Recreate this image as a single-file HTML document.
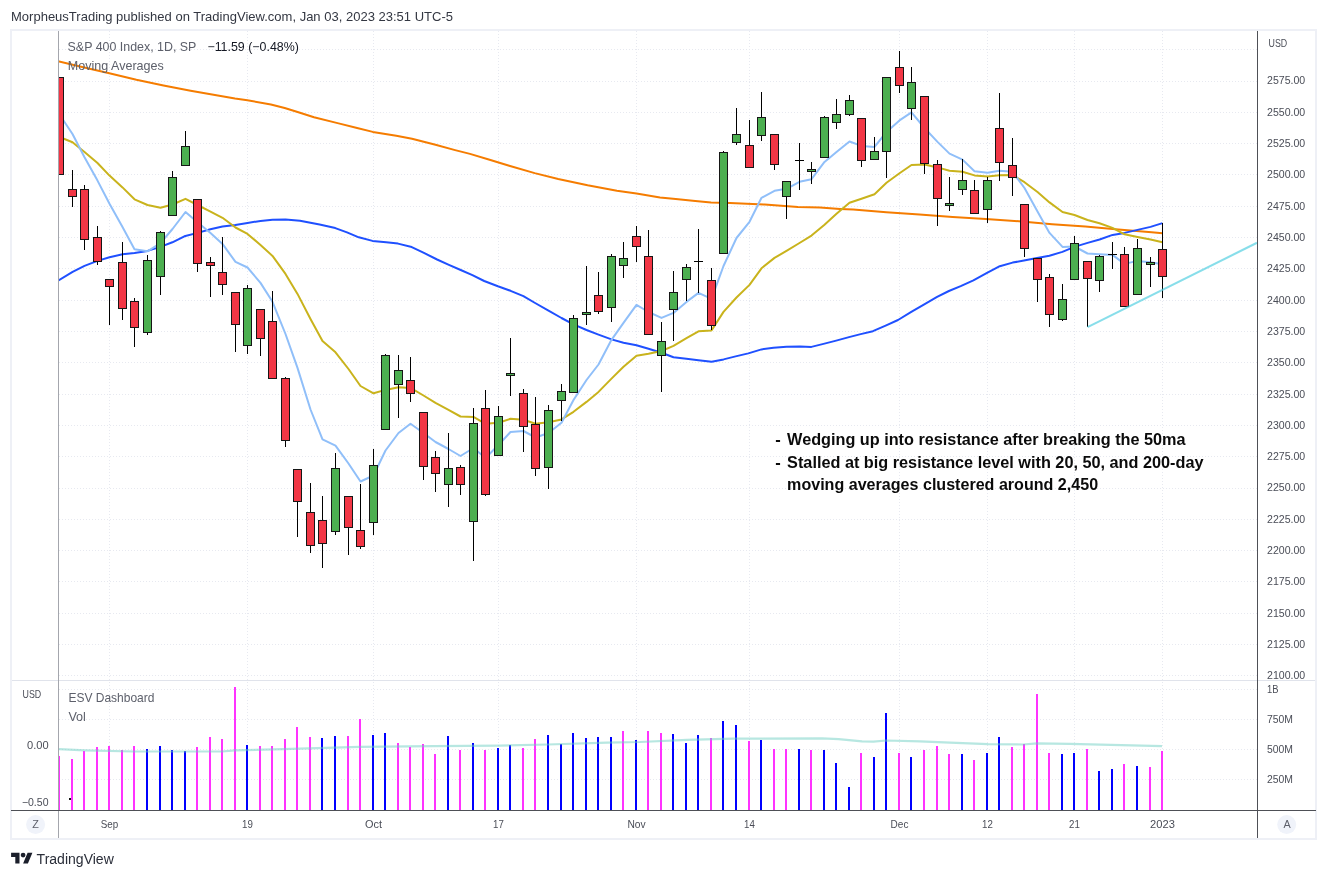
<!DOCTYPE html>
<html lang="en"><head><meta charset="utf-8"><title>S&amp;P 400 Index chart</title>
<style>html,body{margin:0;padding:0;background:#fff;width:1327px;height:878px;overflow:hidden}svg text{white-space:pre}</style>
</head><body>
<svg width="1327" height="878" viewBox="0 0 1327 878" style="display:block">
<defs><clipPath id="cm"><rect x="59" y="31" width="1198" height="649"/></clipPath><clipPath id="cv"><rect x="59" y="681" width="1198" height="129"/></clipPath></defs>
<rect width="1327" height="878" fill="#fff"/>
<rect x="11" y="30" width="1305" height="809" fill="none" stroke="#EEF0F6" stroke-width="2"/>
<g stroke="#E7E9F0" stroke-width="1" stroke-dasharray="1 2" fill="none" shape-rendering="crispEdges"><path d="M59 49.5H1257"/><path d="M59 81.5H1257"/><path d="M59 112.5H1257"/><path d="M59 143.5H1257"/><path d="M59 174.5H1257"/><path d="M59 206.5H1257"/><path d="M59 237.5H1257"/><path d="M59 268.5H1257"/><path d="M59 300.5H1257"/><path d="M59 331.5H1257"/><path d="M59 362.5H1257"/><path d="M59 394.5H1257"/><path d="M59 425.5H1257"/><path d="M59 456.5H1257"/><path d="M59 488.5H1257"/><path d="M59 519.5H1257"/><path d="M59 550.5H1257"/><path d="M59 581.5H1257"/><path d="M59 613.5H1257"/><path d="M59 644.5H1257"/><path d="M59 675.5H1257"/><path d="M59 689.5H1257"/><path d="M59 719.5H1257"/><path d="M59 749.5H1257"/><path d="M59 779.5H1257"/><path d="M109.5 31V680M109.5 682V810"/><path d="M247.5 31V680M247.5 682V810"/><path d="M373.5 31V680M373.5 682V810"/><path d="M498.5 31V680M498.5 682V810"/><path d="M636.5 31V680M636.5 682V810"/><path d="M749.5 31V680M749.5 682V810"/><path d="M899.5 31V680M899.5 682V810"/><path d="M987.5 31V680M987.5 682V810"/><path d="M1074.5 31V680M1074.5 682V810"/><path d="M1162.5 31V680M1162.5 682V810"/></g>
<rect x="12" y="680" width="1303" height="1" fill="#E0E3EB" shape-rendering="crispEdges"/>
<g clip-path="url(#cv)" shape-rendering="crispEdges"><rect x="58" y="756" width="2" height="54" fill="#FF33FF"/><rect x="71" y="759" width="2" height="51" fill="#FF33FF"/><rect x="83" y="751" width="2" height="59" fill="#FF33FF"/><rect x="96" y="747" width="2" height="63" fill="#FF33FF"/><rect x="108" y="746" width="2" height="64" fill="#FF33FF"/><rect x="121" y="750" width="2" height="60" fill="#FF33FF"/><rect x="133" y="746" width="2" height="64" fill="#FF33FF"/><rect x="146" y="749" width="2" height="61" fill="#0000FF"/><rect x="159" y="746" width="2" height="64" fill="#0000FF"/><rect x="171" y="750" width="2" height="60" fill="#0000FF"/><rect x="184" y="751" width="2" height="59" fill="#0000FF"/><rect x="196" y="747" width="2" height="63" fill="#FF33FF"/><rect x="209" y="737" width="2" height="73" fill="#FF33FF"/><rect x="221" y="739" width="2" height="71" fill="#FF33FF"/><rect x="234" y="687" width="2" height="123" fill="#FF33FF"/><rect x="246" y="745" width="2" height="65" fill="#0000FF"/><rect x="259" y="746" width="2" height="64" fill="#FF33FF"/><rect x="271" y="746" width="2" height="64" fill="#FF33FF"/><rect x="284" y="739" width="2" height="71" fill="#FF33FF"/><rect x="296" y="727" width="2" height="83" fill="#FF33FF"/><rect x="309" y="737" width="2" height="73" fill="#FF33FF"/><rect x="321" y="738" width="2" height="72" fill="#0000FF"/><rect x="334" y="736" width="2" height="74" fill="#0000FF"/><rect x="347" y="736" width="2" height="74" fill="#FF33FF"/><rect x="359" y="719" width="2" height="91" fill="#FF33FF"/><rect x="372" y="735" width="2" height="75" fill="#0000FF"/><rect x="384" y="733" width="2" height="77" fill="#0000FF"/><rect x="397" y="743" width="2" height="67" fill="#FF33FF"/><rect x="409" y="747" width="2" height="63" fill="#FF33FF"/><rect x="422" y="744" width="2" height="66" fill="#FF33FF"/><rect x="434" y="754" width="2" height="56" fill="#FF33FF"/><rect x="447" y="736" width="2" height="74" fill="#0000FF"/><rect x="459" y="750" width="2" height="60" fill="#FF33FF"/><rect x="472" y="743" width="2" height="67" fill="#0000FF"/><rect x="484" y="750" width="2" height="60" fill="#FF33FF"/><rect x="497" y="748" width="2" height="62" fill="#0000FF"/><rect x="509" y="745" width="2" height="65" fill="#0000FF"/><rect x="522" y="748" width="2" height="62" fill="#FF33FF"/><rect x="534" y="739" width="2" height="71" fill="#FF33FF"/><rect x="547" y="735" width="2" height="75" fill="#0000FF"/><rect x="560" y="744" width="2" height="66" fill="#0000FF"/><rect x="572" y="733" width="2" height="77" fill="#0000FF"/><rect x="585" y="738" width="2" height="72" fill="#0000FF"/><rect x="597" y="737" width="2" height="73" fill="#0000FF"/><rect x="610" y="737" width="2" height="73" fill="#0000FF"/><rect x="622" y="731" width="2" height="79" fill="#FF33FF"/><rect x="635" y="740" width="2" height="70" fill="#0000FF"/><rect x="647" y="731" width="2" height="79" fill="#FF33FF"/><rect x="660" y="733" width="2" height="77" fill="#FF33FF"/><rect x="672" y="734" width="2" height="76" fill="#0000FF"/><rect x="685" y="743" width="2" height="67" fill="#0000FF"/><rect x="697" y="735" width="2" height="75" fill="#0000FF"/><rect x="710" y="738" width="2" height="72" fill="#FF33FF"/><rect x="722" y="721" width="2" height="89" fill="#0000FF"/><rect x="735" y="725" width="2" height="85" fill="#0000FF"/><rect x="748" y="741" width="2" height="69" fill="#FF33FF"/><rect x="760" y="740" width="2" height="70" fill="#0000FF"/><rect x="773" y="749" width="2" height="61" fill="#FF33FF"/><rect x="785" y="749" width="2" height="61" fill="#FF33FF"/><rect x="798" y="749" width="2" height="61" fill="#0000FF"/><rect x="810" y="750" width="2" height="60" fill="#FF33FF"/><rect x="823" y="750" width="2" height="60" fill="#0000FF"/><rect x="835" y="763" width="2" height="47" fill="#0000FF"/><rect x="848" y="787" width="2" height="23" fill="#0000FF"/><rect x="860" y="753" width="2" height="57" fill="#FF33FF"/><rect x="873" y="757" width="2" height="53" fill="#0000FF"/><rect x="885" y="713" width="2" height="97" fill="#0000FF"/><rect x="898" y="753" width="2" height="57" fill="#FF33FF"/><rect x="910" y="757" width="2" height="53" fill="#0000FF"/><rect x="923" y="750" width="2" height="60" fill="#FF33FF"/><rect x="936" y="746" width="2" height="64" fill="#FF33FF"/><rect x="948" y="754" width="2" height="56" fill="#FF33FF"/><rect x="961" y="754" width="2" height="56" fill="#0000FF"/><rect x="973" y="760" width="2" height="50" fill="#FF33FF"/><rect x="986" y="753" width="2" height="57" fill="#0000FF"/><rect x="998" y="737" width="2" height="73" fill="#0000FF"/><rect x="1011" y="747" width="2" height="63" fill="#FF33FF"/><rect x="1023" y="744" width="2" height="66" fill="#FF33FF"/><rect x="1036" y="694" width="2" height="116" fill="#FF33FF"/><rect x="1048" y="753" width="2" height="57" fill="#FF33FF"/><rect x="1061" y="754" width="2" height="56" fill="#0000FF"/><rect x="1073" y="753" width="2" height="57" fill="#0000FF"/><rect x="1086" y="749" width="2" height="61" fill="#FF33FF"/><rect x="1098" y="771" width="2" height="39" fill="#0000FF"/><rect x="1111" y="769" width="2" height="41" fill="#0000FF"/><rect x="1123" y="764" width="2" height="46" fill="#FF33FF"/><rect x="1136" y="766" width="2" height="44" fill="#0000FF"/><rect x="1149" y="767" width="2" height="43" fill="#FF33FF"/><rect x="1161" y="751" width="2" height="59" fill="#FF33FF"/></g>
<path d="M50.0 748.8 L59.0 749.1 L85.0 750.3 L134.0 751.5 L222.0 751.5 L235.0 750.3 L283.0 749.1 L360.0 746.8 L434.0 746.1 L500.0 745.6 L548.0 744.5 L607.0 742.6 L640.0 742.0 L687.0 739.8 L733.0 738.6 L822.0 738.4 L838.6 739.1 L862.0 741.4 L873.6 741.7 L886.0 740.5 L920.0 741.4 L950.0 742.6 L988.0 744.2 L1023.0 744.5 L1037.0 743.3 L1070.0 743.8 L1162.0 746.1" fill="none" stroke="#6FCFC3" stroke-width="2.2" stroke-linejoin="round" stroke-linecap="butt" clip-path="url(#cv)" stroke-opacity="0.5"/>
<rect x="69" y="798" width="2" height="2" fill="#111"/>
<path d="M46.0 58.5 L59.1 61.5 L82.1 67.0 L109.3 73.3 L136.4 79.8 L163.5 85.5 L190.6 90.7 L217.8 95.4 L235.0 98.6 L247.4 100.2 L270.9 104.5 L284.7 108.0 L298.4 112.3 L314.0 117.2 L337.6 123.1 L357.1 128.0 L372.8 131.9 L396.3 135.8 L412.0 138.8 L435.5 144.7 L455.1 150.1 L470.0 153.9 L489.6 159.8 L509.2 165.7 L534.7 173.1 L558.2 179.0 L587.6 185.3 L616.9 190.8 L636.5 193.5 L660.0 197.4 L675.7 199.0 L695.3 200.9 L711.0 202.5 L730.0 202.9 L764.7 204.6 L797.9 206.9 L820.0 207.5 L840.0 208.9 L853.2 209.6 L886.3 212.2 L919.5 214.5 L952.6 216.9 L985.8 218.9 L1018.9 221.2 L1052.1 224.2 L1085.3 226.6 L1118.4 229.4 L1151.6 232.2 L1162.5 233.3" fill="none" stroke="#F57C00" stroke-width="2.0" stroke-linejoin="round" stroke-linecap="butt" clip-path="url(#cm)" />
<path d="M46.0 289.0 L58.5 280.5 L72.6 271.9 L84.5 265.9 L97.5 260.9 L109.5 257.3 L122.5 254.3 L134.5 252.9 L147.5 250.9 L160.4 246.9 L172.4 242.3 L184.4 236.3 L197.6 232.9 L210.4 229.3 L222.5 226.5 L235.3 224.9 L247.5 222.9 L260.5 220.9 L272.5 219.7 L285.5 219.4 L300.0 220.7 L319.6 224.6 L335.3 228.1 L347.0 232.4 L358.8 237.3 L372.5 240.9 L386.2 242.2 L398.0 243.6 L410.7 246.7 L423.4 252.6 L437.1 259.5 L448.9 264.8 L460.7 270.0 L472.4 275.1 L484.2 281.0 L497.9 286.3 L510.6 290.8 L523.4 296.1 L535.1 303.0 L548.5 310.6 L561.5 318.0 L573.5 324.4 L586.5 330.0 L598.5 334.6 L611.5 339.4 L623.5 342.8 L636.5 345.2 L648.5 348.8 L661.5 352.8 L673.5 357.2 L686.4 358.8 L698.4 360.2 L711.6 361.8 L723.6 359.4 L735.6 356.4 L748.3 353.4 L761.5 349.4 L773.5 347.8 L786.5 346.8 L800.0 346.4 L811.4 346.9 L823.5 343.9 L836.2 340.6 L849.0 337.1 L860.7 334.1 L872.9 331.2 L886.2 325.3 L898.0 320.0 L911.7 311.6 L923.4 304.8 L937.1 296.9 L948.9 291.0 L960.7 286.1 L973.4 280.3 L986.1 273.4 L999.8 266.2 L1012.6 262.6 L1025.3 260.3 L1037.1 258.1 L1049.4 255.7 L1062.4 251.9 L1074.4 246.9 L1087.6 242.9 L1099.6 239.5 L1112.6 234.9 L1124.5 232.9 L1137.5 229.9 L1150.5 226.9 L1162.5 223.1" fill="none" stroke="#1F50FF" stroke-width="2.0" stroke-linejoin="round" stroke-linecap="butt" clip-path="url(#cm)" />
<path d="M47.5 133.0 L59.5 137.0 L72.5 142.3 L84.5 152.0 L97.5 163.0 L109.5 175.6 L122.5 187.4 L134.5 199.3 L147.5 205.0 L160.5 207.7 L172.5 204.5 L185.5 198.8 L197.5 205.0 L210.5 211.7 L222.5 217.8 L235.5 227.5 L247.5 233.9 L260.5 244.9 L272.5 255.9 L285.5 273.9 L297.5 293.9 L310.5 319.0 L322.5 341.0 L335.5 352.3 L348.5 369.0 L360.5 386.0 L373.5 393.3 L385.5 389.9 L398.5 387.3 L410.5 387.9 L423.5 395.5 L435.5 402.9 L448.5 409.9 L460.5 416.5 L473.5 416.9 L485.5 423.8 L498.5 422.8 L510.5 418.8 L523.5 419.8 L535.5 423.8 L548.5 422.2 L561.5 419.4 L573.5 411.8 L586.5 401.9 L598.5 391.9 L611.5 378.6 L623.5 366.8 L636.5 355.8 L648.5 353.8 L661.5 351.0 L673.5 345.8 L686.5 338.2 L698.5 331.3 L711.5 330.5 L723.5 311.9 L736.5 297.5 L749.5 284.9 L761.5 268.3 L774.5 257.9 L786.5 250.9 L799.5 243.0 L811.5 235.6 L824.5 224.8 L836.5 213.8 L849.5 202.8 L861.5 198.8 L874.5 194.2 L886.5 182.8 L899.5 173.3 L911.5 165.0 L924.5 164.6 L937.5 167.4 L949.5 170.8 L962.5 171.8 L974.5 175.4 L987.5 176.4 L999.5 175.2 L1012.5 175.1 L1024.5 182.2 L1037.5 192.0 L1049.5 202.4 L1062.5 212.0 L1074.5 215.0 L1087.5 220.0 L1099.5 223.3 L1112.5 227.9 L1124.5 234.3 L1137.5 236.9 L1150.5 239.5 L1162.5 242.3" fill="none" stroke="#C9B31C" stroke-width="2.0" stroke-linejoin="round" stroke-linecap="butt" clip-path="url(#cm)" />
<path d="M47.5 95.0 L59.5 114.5 L72.5 134.0 L84.5 157.3 L97.5 180.6 L109.5 203.8 L122.5 227.0 L134.5 249.3 L147.5 251.3 L160.5 243.0 L172.5 229.0 L185.5 212.0 L197.5 222.3 L210.5 233.0 L222.5 243.9 L235.5 261.9 L247.5 267.5 L260.5 282.9 L272.5 301.8 L285.5 334.0 L297.5 367.9 L310.5 409.5 L322.5 439.4 L335.5 445.7 L348.5 463.5 L360.5 481.5 L373.5 475.5 L385.5 450.5 L398.5 433.0 L410.5 423.7 L423.5 433.0 L435.5 442.0 L448.5 449.0 L460.5 456.0 L473.5 448.0 L485.5 458.0 L498.5 445.0 L510.5 432.0 L523.5 431.0 L535.5 437.5 L548.5 433.0 L561.5 422.8 L573.5 400.0 L586.5 380.0 L598.5 364.5 L611.5 339.8 L623.5 322.9 L636.5 304.9 L648.5 312.0 L661.5 317.9 L673.5 312.9 L686.5 301.9 L698.5 292.9 L711.5 298.9 L723.5 266.0 L736.5 238.0 L749.5 221.8 L761.5 197.8 L774.5 190.8 L786.5 188.8 L799.5 181.8 L811.5 179.2 L824.5 161.9 L836.5 151.9 L849.5 141.5 L861.5 145.9 L874.5 146.9 L886.5 132.0 L899.5 120.4 L911.5 112.3 L924.5 128.0 L937.5 141.9 L949.5 153.6 L962.5 159.6 L974.5 171.2 L987.5 172.8 L999.5 170.8 L1012.5 171.8 L1024.5 188.0 L1037.5 211.5 L1049.5 232.9 L1062.5 246.9 L1074.5 246.5 L1087.5 253.5 L1099.5 254.3 L1112.5 254.9 L1124.5 263.9 L1137.5 260.9 L1150.5 262.3 L1162.5 264.3" fill="none" stroke="#90BFF9" stroke-width="2.0" stroke-linejoin="round" stroke-linecap="butt" clip-path="url(#cm)" />
<g clip-path="url(#cm)" shape-rendering="crispEdges"><rect x="59" y="77" width="1" height="97" fill="#000"/><rect x="55" y="77" width="9" height="98" fill="#161616"/><rect x="56" y="78" width="7" height="96" fill="#F23645"/><rect x="72" y="170" width="1" height="37" fill="#000"/><rect x="68" y="189" width="9" height="8" fill="#161616"/><rect x="69" y="190" width="7" height="6" fill="#F23645"/><rect x="84" y="185" width="1" height="65" fill="#000"/><rect x="80" y="189" width="9" height="51" fill="#161616"/><rect x="81" y="190" width="7" height="49" fill="#F23645"/><rect x="97" y="226" width="1" height="39" fill="#000"/><rect x="93" y="237" width="9" height="25" fill="#161616"/><rect x="94" y="238" width="7" height="23" fill="#F23645"/><rect x="109" y="279" width="1" height="46" fill="#000"/><rect x="105" y="279" width="9" height="8" fill="#161616"/><rect x="106" y="280" width="7" height="6" fill="#F23645"/><rect x="122" y="242" width="1" height="78" fill="#000"/><rect x="118" y="262" width="9" height="47" fill="#161616"/><rect x="119" y="263" width="7" height="45" fill="#F23645"/><rect x="134" y="298" width="1" height="49" fill="#000"/><rect x="130" y="301" width="9" height="27" fill="#161616"/><rect x="131" y="302" width="7" height="25" fill="#F23645"/><rect x="147" y="255" width="1" height="80" fill="#000"/><rect x="143" y="260" width="9" height="73" fill="#161616"/><rect x="144" y="261" width="7" height="71" fill="#4CAF50"/><rect x="160" y="231" width="1" height="64" fill="#000"/><rect x="156" y="232" width="9" height="45" fill="#161616"/><rect x="157" y="233" width="7" height="43" fill="#4CAF50"/><rect x="172" y="171" width="1" height="45" fill="#000"/><rect x="168" y="177" width="9" height="39" fill="#161616"/><rect x="169" y="178" width="7" height="37" fill="#4CAF50"/><rect x="185" y="131" width="1" height="35" fill="#000"/><rect x="181" y="146" width="9" height="20" fill="#161616"/><rect x="182" y="147" width="7" height="18" fill="#4CAF50"/><rect x="197" y="199" width="1" height="73" fill="#000"/><rect x="193" y="199" width="9" height="65" fill="#161616"/><rect x="194" y="200" width="7" height="63" fill="#F23645"/><rect x="210" y="257" width="1" height="40" fill="#000"/><rect x="206" y="262" width="9" height="4" fill="#161616"/><rect x="207" y="263" width="7" height="2" fill="#F23645"/><rect x="222" y="237" width="1" height="58" fill="#000"/><rect x="218" y="272" width="9" height="13" fill="#161616"/><rect x="219" y="273" width="7" height="11" fill="#F23645"/><rect x="235" y="292" width="1" height="60" fill="#000"/><rect x="231" y="292" width="9" height="33" fill="#161616"/><rect x="232" y="293" width="7" height="31" fill="#F23645"/><rect x="247" y="285" width="1" height="69" fill="#000"/><rect x="243" y="288" width="9" height="58" fill="#161616"/><rect x="244" y="289" width="7" height="56" fill="#4CAF50"/><rect x="260" y="309" width="1" height="47" fill="#000"/><rect x="256" y="309" width="9" height="30" fill="#161616"/><rect x="257" y="310" width="7" height="28" fill="#F23645"/><rect x="272" y="291" width="1" height="87" fill="#000"/><rect x="268" y="321" width="9" height="58" fill="#161616"/><rect x="269" y="322" width="7" height="56" fill="#F23645"/><rect x="285" y="377" width="1" height="70" fill="#000"/><rect x="281" y="378" width="9" height="63" fill="#161616"/><rect x="282" y="379" width="7" height="61" fill="#F23645"/><rect x="297" y="469" width="1" height="68" fill="#000"/><rect x="293" y="469" width="9" height="33" fill="#161616"/><rect x="294" y="470" width="7" height="31" fill="#F23645"/><rect x="310" y="483" width="1" height="70" fill="#000"/><rect x="306" y="512" width="9" height="34" fill="#161616"/><rect x="307" y="513" width="7" height="32" fill="#F23645"/><rect x="322" y="496" width="1" height="72" fill="#000"/><rect x="318" y="520" width="9" height="24" fill="#161616"/><rect x="319" y="521" width="7" height="22" fill="#F23645"/><rect x="335" y="453" width="1" height="82" fill="#000"/><rect x="331" y="468" width="9" height="64" fill="#161616"/><rect x="332" y="469" width="7" height="62" fill="#4CAF50"/><rect x="348" y="496" width="1" height="59" fill="#000"/><rect x="344" y="496" width="9" height="32" fill="#161616"/><rect x="345" y="497" width="7" height="30" fill="#F23645"/><rect x="360" y="484" width="1" height="65" fill="#000"/><rect x="356" y="530" width="9" height="17" fill="#161616"/><rect x="357" y="531" width="7" height="15" fill="#F23645"/><rect x="373" y="449" width="1" height="86" fill="#000"/><rect x="369" y="465" width="9" height="58" fill="#161616"/><rect x="370" y="466" width="7" height="56" fill="#4CAF50"/><rect x="385" y="354" width="1" height="75" fill="#000"/><rect x="381" y="355" width="9" height="75" fill="#161616"/><rect x="382" y="356" width="7" height="73" fill="#4CAF50"/><rect x="398" y="355" width="1" height="63" fill="#000"/><rect x="394" y="370" width="9" height="15" fill="#161616"/><rect x="395" y="371" width="7" height="13" fill="#4CAF50"/><rect x="410" y="357" width="1" height="45" fill="#000"/><rect x="406" y="380" width="9" height="14" fill="#161616"/><rect x="407" y="381" width="7" height="12" fill="#F23645"/><rect x="423" y="412" width="1" height="68" fill="#000"/><rect x="419" y="412" width="9" height="55" fill="#161616"/><rect x="420" y="413" width="7" height="53" fill="#F23645"/><rect x="435" y="451" width="1" height="41" fill="#000"/><rect x="431" y="457" width="9" height="17" fill="#161616"/><rect x="432" y="458" width="7" height="15" fill="#F23645"/><rect x="448" y="433" width="1" height="74" fill="#000"/><rect x="444" y="468" width="9" height="17" fill="#161616"/><rect x="445" y="469" width="7" height="15" fill="#4CAF50"/><rect x="460" y="465" width="1" height="30" fill="#000"/><rect x="456" y="467" width="9" height="18" fill="#161616"/><rect x="457" y="468" width="7" height="16" fill="#F23645"/><rect x="473" y="408" width="1" height="153" fill="#000"/><rect x="469" y="423" width="9" height="99" fill="#161616"/><rect x="470" y="424" width="7" height="97" fill="#4CAF50"/><rect x="485" y="390" width="1" height="106" fill="#000"/><rect x="481" y="408" width="9" height="87" fill="#161616"/><rect x="482" y="409" width="7" height="85" fill="#F23645"/><rect x="498" y="406" width="1" height="49" fill="#000"/><rect x="494" y="416" width="9" height="40" fill="#161616"/><rect x="495" y="417" width="7" height="38" fill="#4CAF50"/><rect x="510" y="338" width="1" height="58" fill="#000"/><rect x="506" y="373" width="9" height="3" fill="#161616"/><rect x="507" y="374" width="7" height="1" fill="#4CAF50"/><rect x="523" y="389" width="1" height="63" fill="#000"/><rect x="519" y="393" width="9" height="34" fill="#161616"/><rect x="520" y="394" width="7" height="32" fill="#F23645"/><rect x="535" y="397" width="1" height="79" fill="#000"/><rect x="531" y="424" width="9" height="45" fill="#161616"/><rect x="532" y="425" width="7" height="43" fill="#F23645"/><rect x="548" y="405" width="1" height="84" fill="#000"/><rect x="544" y="410" width="9" height="58" fill="#161616"/><rect x="545" y="411" width="7" height="56" fill="#4CAF50"/><rect x="561" y="384" width="1" height="37" fill="#000"/><rect x="557" y="391" width="9" height="10" fill="#161616"/><rect x="558" y="392" width="7" height="8" fill="#4CAF50"/><rect x="573" y="315" width="1" height="77" fill="#000"/><rect x="569" y="318" width="9" height="75" fill="#161616"/><rect x="570" y="319" width="7" height="73" fill="#4CAF50"/><rect x="586" y="266" width="1" height="59" fill="#000"/><rect x="582" y="312" width="9" height="3" fill="#161616"/><rect x="583" y="313" width="7" height="1" fill="#4CAF50"/><rect x="598" y="272" width="1" height="42" fill="#000"/><rect x="594" y="295" width="9" height="17" fill="#161616"/><rect x="595" y="296" width="7" height="15" fill="#F23645"/><rect x="611" y="254" width="1" height="68" fill="#000"/><rect x="607" y="256" width="9" height="52" fill="#161616"/><rect x="608" y="257" width="7" height="50" fill="#4CAF50"/><rect x="623" y="242" width="1" height="36" fill="#000"/><rect x="619" y="258" width="9" height="8" fill="#161616"/><rect x="620" y="259" width="7" height="6" fill="#4CAF50"/><rect x="636" y="226" width="1" height="36" fill="#000"/><rect x="632" y="236" width="9" height="11" fill="#161616"/><rect x="633" y="237" width="7" height="9" fill="#F23645"/><rect x="648" y="230" width="1" height="104" fill="#000"/><rect x="644" y="256" width="9" height="79" fill="#161616"/><rect x="645" y="257" width="7" height="77" fill="#F23645"/><rect x="661" y="322" width="1" height="70" fill="#000"/><rect x="657" y="341" width="9" height="15" fill="#161616"/><rect x="658" y="342" width="7" height="13" fill="#4CAF50"/><rect x="673" y="271" width="1" height="70" fill="#000"/><rect x="669" y="292" width="9" height="18" fill="#161616"/><rect x="670" y="293" width="7" height="16" fill="#4CAF50"/><rect x="686" y="264" width="1" height="37" fill="#000"/><rect x="682" y="267" width="9" height="13" fill="#161616"/><rect x="683" y="268" width="7" height="11" fill="#4CAF50"/><rect x="698" y="229" width="1" height="64" fill="#000"/><rect x="694" y="261" width="9" height="1" fill="#000"/><rect x="711" y="268" width="1" height="62" fill="#000"/><rect x="707" y="280" width="9" height="46" fill="#161616"/><rect x="708" y="281" width="7" height="44" fill="#F23645"/><rect x="723" y="151" width="1" height="102" fill="#000"/><rect x="719" y="152" width="9" height="102" fill="#161616"/><rect x="720" y="153" width="7" height="100" fill="#4CAF50"/><rect x="736" y="108" width="1" height="37" fill="#000"/><rect x="732" y="134" width="9" height="9" fill="#161616"/><rect x="733" y="135" width="7" height="7" fill="#4CAF50"/><rect x="749" y="120" width="1" height="47" fill="#000"/><rect x="745" y="145" width="9" height="23" fill="#161616"/><rect x="746" y="146" width="7" height="21" fill="#F23645"/><rect x="761" y="92" width="1" height="49" fill="#000"/><rect x="757" y="117" width="9" height="19" fill="#161616"/><rect x="758" y="118" width="7" height="17" fill="#4CAF50"/><rect x="774" y="134" width="1" height="36" fill="#000"/><rect x="770" y="134" width="9" height="31" fill="#161616"/><rect x="771" y="135" width="7" height="29" fill="#F23645"/><rect x="786" y="181" width="1" height="38" fill="#000"/><rect x="782" y="181" width="9" height="16" fill="#161616"/><rect x="783" y="182" width="7" height="14" fill="#4CAF50"/><rect x="799" y="143" width="1" height="47" fill="#000"/><rect x="795" y="160" width="9" height="1" fill="#000"/><rect x="811" y="162" width="1" height="22" fill="#000"/><rect x="807" y="169" width="9" height="3" fill="#161616"/><rect x="808" y="170" width="7" height="1" fill="#4CAF50"/><rect x="824" y="116" width="1" height="42" fill="#000"/><rect x="820" y="117" width="9" height="41" fill="#161616"/><rect x="821" y="118" width="7" height="39" fill="#4CAF50"/><rect x="836" y="99" width="1" height="30" fill="#000"/><rect x="832" y="114" width="9" height="9" fill="#161616"/><rect x="833" y="115" width="7" height="7" fill="#4CAF50"/><rect x="849" y="95" width="1" height="21" fill="#000"/><rect x="845" y="100" width="9" height="15" fill="#161616"/><rect x="846" y="101" width="7" height="13" fill="#4CAF50"/><rect x="861" y="118" width="1" height="49" fill="#000"/><rect x="857" y="118" width="9" height="43" fill="#161616"/><rect x="858" y="119" width="7" height="41" fill="#F23645"/><rect x="874" y="137" width="1" height="23" fill="#000"/><rect x="870" y="151" width="9" height="9" fill="#161616"/><rect x="871" y="152" width="7" height="7" fill="#4CAF50"/><rect x="886" y="77" width="1" height="101" fill="#000"/><rect x="882" y="77" width="9" height="75" fill="#161616"/><rect x="883" y="78" width="7" height="73" fill="#4CAF50"/><rect x="899" y="51" width="1" height="42" fill="#000"/><rect x="895" y="67" width="9" height="19" fill="#161616"/><rect x="896" y="68" width="7" height="17" fill="#F23645"/><rect x="911" y="67" width="1" height="53" fill="#000"/><rect x="907" y="82" width="9" height="27" fill="#161616"/><rect x="908" y="83" width="7" height="25" fill="#4CAF50"/><rect x="924" y="96" width="1" height="78" fill="#000"/><rect x="920" y="96" width="9" height="68" fill="#161616"/><rect x="921" y="97" width="7" height="66" fill="#F23645"/><rect x="937" y="160" width="1" height="66" fill="#000"/><rect x="933" y="164" width="9" height="35" fill="#161616"/><rect x="934" y="165" width="7" height="33" fill="#F23645"/><rect x="949" y="177" width="1" height="34" fill="#000"/><rect x="945" y="203" width="9" height="3" fill="#161616"/><rect x="946" y="204" width="7" height="1" fill="#4CAF50"/><rect x="962" y="159" width="1" height="36" fill="#000"/><rect x="958" y="180" width="9" height="10" fill="#161616"/><rect x="959" y="181" width="7" height="8" fill="#4CAF50"/><rect x="974" y="180" width="1" height="33" fill="#000"/><rect x="970" y="190" width="9" height="24" fill="#161616"/><rect x="971" y="191" width="7" height="22" fill="#F23645"/><rect x="987" y="177" width="1" height="46" fill="#000"/><rect x="983" y="180" width="9" height="30" fill="#161616"/><rect x="984" y="181" width="7" height="28" fill="#4CAF50"/><rect x="999" y="93" width="1" height="88" fill="#000"/><rect x="995" y="128" width="9" height="35" fill="#161616"/><rect x="996" y="129" width="7" height="33" fill="#F23645"/><rect x="1012" y="138" width="1" height="58" fill="#000"/><rect x="1008" y="165" width="9" height="13" fill="#161616"/><rect x="1009" y="166" width="7" height="11" fill="#F23645"/><rect x="1024" y="204" width="1" height="53" fill="#000"/><rect x="1020" y="204" width="9" height="45" fill="#161616"/><rect x="1021" y="205" width="7" height="43" fill="#F23645"/><rect x="1037" y="258" width="1" height="44" fill="#000"/><rect x="1033" y="258" width="9" height="22" fill="#161616"/><rect x="1034" y="259" width="7" height="20" fill="#F23645"/><rect x="1049" y="274" width="1" height="53" fill="#000"/><rect x="1045" y="277" width="9" height="38" fill="#161616"/><rect x="1046" y="278" width="7" height="36" fill="#F23645"/><rect x="1062" y="284" width="1" height="37" fill="#000"/><rect x="1058" y="299" width="9" height="21" fill="#161616"/><rect x="1059" y="300" width="7" height="19" fill="#4CAF50"/><rect x="1074" y="236" width="1" height="43" fill="#000"/><rect x="1070" y="243" width="9" height="37" fill="#161616"/><rect x="1071" y="244" width="7" height="35" fill="#4CAF50"/><rect x="1087" y="261" width="1" height="66" fill="#000"/><rect x="1083" y="261" width="9" height="18" fill="#161616"/><rect x="1084" y="262" width="7" height="16" fill="#F23645"/><rect x="1099" y="255" width="1" height="37" fill="#000"/><rect x="1095" y="256" width="9" height="25" fill="#161616"/><rect x="1096" y="257" width="7" height="23" fill="#4CAF50"/><rect x="1112" y="242" width="1" height="27" fill="#000"/><rect x="1108" y="254" width="9" height="1" fill="#000"/><rect x="1124" y="247" width="1" height="59" fill="#000"/><rect x="1120" y="254" width="9" height="53" fill="#161616"/><rect x="1121" y="255" width="7" height="51" fill="#F23645"/><rect x="1137" y="239" width="1" height="55" fill="#000"/><rect x="1133" y="248" width="9" height="47" fill="#161616"/><rect x="1134" y="249" width="7" height="45" fill="#4CAF50"/><rect x="1150" y="257" width="1" height="30" fill="#000"/><rect x="1146" y="262" width="9" height="3" fill="#161616"/><rect x="1147" y="263" width="7" height="1" fill="#4CAF50"/><rect x="1162" y="223" width="1" height="75" fill="#000"/><rect x="1158" y="249" width="9" height="28" fill="#161616"/><rect x="1159" y="250" width="7" height="26" fill="#F23645"/></g>
<path d="M1087.6 327.1L1257 242.8" stroke="#4FCFE0" stroke-opacity="0.68" stroke-width="2.1" fill="none" clip-path="url(#cm)"/>
<g shape-rendering="crispEdges"><rect x="58" y="31" width="1" height="807" fill="#A4A6AD"/><rect x="1257" y="31" width="1" height="807" fill="#4E5056"/><rect x="11" y="810" width="1305" height="1" fill="#4E5056"/></g>
<text x="11" y="20.8" font-size="12.2" fill="#333742" font-family="Liberation Sans, sans-serif" text-anchor="start" font-weight="normal" textLength="442" lengthAdjust="spacingAndGlyphs" >MorpheusTrading published on TradingView.com, Jan 03, 2023 23:51 UTC-5</text>
<text x="67.6" y="50.8" font-size="12.2" fill="#5D606B" font-family="Liberation Sans, sans-serif" text-anchor="start" font-weight="normal" textLength="128.8" lengthAdjust="spacingAndGlyphs" >S&amp;P 400 Index, 1D, SP</text>
<text x="207.4" y="50.8" font-size="12.2" fill="#131722" font-family="Liberation Sans, sans-serif" text-anchor="start" font-weight="normal" textLength="91.5" lengthAdjust="spacingAndGlyphs" >−11.59 (−0.48%)</text>
<text x="67.8" y="69.7" font-size="12.2" fill="#5D606B" font-family="Liberation Sans, sans-serif" text-anchor="start" font-weight="normal" textLength="96" lengthAdjust="spacingAndGlyphs" >Moving Averages</text>
<text x="68.4" y="702" font-size="12.2" fill="#5D606B" font-family="Liberation Sans, sans-serif" text-anchor="start" font-weight="normal" textLength="86" lengthAdjust="spacingAndGlyphs" >ESV Dashboard</text>
<text x="68.4" y="721" font-size="12.2" fill="#5D606B" font-family="Liberation Sans, sans-serif" text-anchor="start" font-weight="normal" textLength="17.5" lengthAdjust="spacingAndGlyphs" >Vol</text>
<text x="1268.5" y="46.6" font-size="10" fill="#4A4D57" font-family="Liberation Sans, sans-serif" text-anchor="start" font-weight="normal" textLength="18.7" lengthAdjust="spacingAndGlyphs" >USD</text>
<text x="1267" y="84" font-size="11" fill="#4A4D57" font-family="Liberation Sans, sans-serif" text-anchor="start" font-weight="normal" textLength="38.2" lengthAdjust="spacingAndGlyphs" >2575.00</text>
<text x="1267" y="116" font-size="11" fill="#4A4D57" font-family="Liberation Sans, sans-serif" text-anchor="start" font-weight="normal" textLength="38.2" lengthAdjust="spacingAndGlyphs" >2550.00</text>
<text x="1267" y="147" font-size="11" fill="#4A4D57" font-family="Liberation Sans, sans-serif" text-anchor="start" font-weight="normal" textLength="38.2" lengthAdjust="spacingAndGlyphs" >2525.00</text>
<text x="1267" y="178" font-size="11" fill="#4A4D57" font-family="Liberation Sans, sans-serif" text-anchor="start" font-weight="normal" textLength="38.2" lengthAdjust="spacingAndGlyphs" >2500.00</text>
<text x="1267" y="210" font-size="11" fill="#4A4D57" font-family="Liberation Sans, sans-serif" text-anchor="start" font-weight="normal" textLength="38.2" lengthAdjust="spacingAndGlyphs" >2475.00</text>
<text x="1267" y="241" font-size="11" fill="#4A4D57" font-family="Liberation Sans, sans-serif" text-anchor="start" font-weight="normal" textLength="38.2" lengthAdjust="spacingAndGlyphs" >2450.00</text>
<text x="1267" y="272" font-size="11" fill="#4A4D57" font-family="Liberation Sans, sans-serif" text-anchor="start" font-weight="normal" textLength="38.2" lengthAdjust="spacingAndGlyphs" >2425.00</text>
<text x="1267" y="304" font-size="11" fill="#4A4D57" font-family="Liberation Sans, sans-serif" text-anchor="start" font-weight="normal" textLength="38.2" lengthAdjust="spacingAndGlyphs" >2400.00</text>
<text x="1267" y="335" font-size="11" fill="#4A4D57" font-family="Liberation Sans, sans-serif" text-anchor="start" font-weight="normal" textLength="38.2" lengthAdjust="spacingAndGlyphs" >2375.00</text>
<text x="1267" y="366" font-size="11" fill="#4A4D57" font-family="Liberation Sans, sans-serif" text-anchor="start" font-weight="normal" textLength="38.2" lengthAdjust="spacingAndGlyphs" >2350.00</text>
<text x="1267" y="398" font-size="11" fill="#4A4D57" font-family="Liberation Sans, sans-serif" text-anchor="start" font-weight="normal" textLength="38.2" lengthAdjust="spacingAndGlyphs" >2325.00</text>
<text x="1267" y="429" font-size="11" fill="#4A4D57" font-family="Liberation Sans, sans-serif" text-anchor="start" font-weight="normal" textLength="38.2" lengthAdjust="spacingAndGlyphs" >2300.00</text>
<text x="1267" y="460" font-size="11" fill="#4A4D57" font-family="Liberation Sans, sans-serif" text-anchor="start" font-weight="normal" textLength="38.2" lengthAdjust="spacingAndGlyphs" >2275.00</text>
<text x="1267" y="491" font-size="11" fill="#4A4D57" font-family="Liberation Sans, sans-serif" text-anchor="start" font-weight="normal" textLength="38.2" lengthAdjust="spacingAndGlyphs" >2250.00</text>
<text x="1267" y="523" font-size="11" fill="#4A4D57" font-family="Liberation Sans, sans-serif" text-anchor="start" font-weight="normal" textLength="38.2" lengthAdjust="spacingAndGlyphs" >2225.00</text>
<text x="1267" y="554" font-size="11" fill="#4A4D57" font-family="Liberation Sans, sans-serif" text-anchor="start" font-weight="normal" textLength="38.2" lengthAdjust="spacingAndGlyphs" >2200.00</text>
<text x="1267" y="585" font-size="11" fill="#4A4D57" font-family="Liberation Sans, sans-serif" text-anchor="start" font-weight="normal" textLength="38.2" lengthAdjust="spacingAndGlyphs" >2175.00</text>
<text x="1267" y="617" font-size="11" fill="#4A4D57" font-family="Liberation Sans, sans-serif" text-anchor="start" font-weight="normal" textLength="38.2" lengthAdjust="spacingAndGlyphs" >2150.00</text>
<text x="1267" y="648" font-size="11" fill="#4A4D57" font-family="Liberation Sans, sans-serif" text-anchor="start" font-weight="normal" textLength="38.2" lengthAdjust="spacingAndGlyphs" >2125.00</text>
<text x="1267" y="679" font-size="11" fill="#4A4D57" font-family="Liberation Sans, sans-serif" text-anchor="start" font-weight="normal" textLength="38.2" lengthAdjust="spacingAndGlyphs" >2100.00</text>
<text x="1267" y="693.2" font-size="10.8" fill="#4A4D57" font-family="Liberation Sans, sans-serif" text-anchor="start" font-weight="normal" textLength="11.5" lengthAdjust="spacingAndGlyphs" >1B</text>
<text x="1267" y="723" font-size="10.8" fill="#4A4D57" font-family="Liberation Sans, sans-serif" text-anchor="start" font-weight="normal" textLength="26" lengthAdjust="spacingAndGlyphs" >750M</text>
<text x="1267" y="752.8" font-size="10.8" fill="#4A4D57" font-family="Liberation Sans, sans-serif" text-anchor="start" font-weight="normal" textLength="26" lengthAdjust="spacingAndGlyphs" >500M</text>
<text x="1267" y="782.6" font-size="10.8" fill="#4A4D57" font-family="Liberation Sans, sans-serif" text-anchor="start" font-weight="normal" textLength="26" lengthAdjust="spacingAndGlyphs" >250M</text>
<text x="22.5" y="697.9" font-size="10.5" fill="#4A4D57" font-family="Liberation Sans, sans-serif" text-anchor="start" font-weight="normal" textLength="18.7" lengthAdjust="spacingAndGlyphs" >USD</text>
<text x="48.6" y="748.9" font-size="10.8" fill="#4A4D57" font-family="Liberation Sans, sans-serif" text-anchor="end" font-weight="normal" textLength="21.6" lengthAdjust="spacingAndGlyphs" >0.00</text>
<text x="48.5" y="806.4" font-size="10.8" fill="#4A4D57" font-family="Liberation Sans, sans-serif" text-anchor="end" font-weight="normal" textLength="26.6" lengthAdjust="spacingAndGlyphs" >−0.50</text>
<text x="109.5" y="828.3" font-size="11.6" fill="#4A4D57" font-family="Liberation Sans, sans-serif" text-anchor="middle" font-weight="normal" textLength="17.5" lengthAdjust="spacingAndGlyphs" >Sep</text>
<text x="247.5" y="828.3" font-size="11.6" fill="#4A4D57" font-family="Liberation Sans, sans-serif" text-anchor="middle" font-weight="normal" textLength="10.8" lengthAdjust="spacingAndGlyphs" >19</text>
<text x="373.5" y="828.3" font-size="11.6" fill="#4A4D57" font-family="Liberation Sans, sans-serif" text-anchor="middle" font-weight="normal" textLength="17" lengthAdjust="spacingAndGlyphs" >Oct</text>
<text x="498.5" y="828.3" font-size="11.6" fill="#4A4D57" font-family="Liberation Sans, sans-serif" text-anchor="middle" font-weight="normal" textLength="10.8" lengthAdjust="spacingAndGlyphs" >17</text>
<text x="636.5" y="828.3" font-size="11.6" fill="#4A4D57" font-family="Liberation Sans, sans-serif" text-anchor="middle" font-weight="normal" textLength="18.2" lengthAdjust="spacingAndGlyphs" >Nov</text>
<text x="749.5" y="828.3" font-size="11.6" fill="#4A4D57" font-family="Liberation Sans, sans-serif" text-anchor="middle" font-weight="normal" textLength="10.8" lengthAdjust="spacingAndGlyphs" >14</text>
<text x="899.5" y="828.3" font-size="11.6" fill="#4A4D57" font-family="Liberation Sans, sans-serif" text-anchor="middle" font-weight="normal" textLength="17.8" lengthAdjust="spacingAndGlyphs" >Dec</text>
<text x="987.5" y="828.3" font-size="11.6" fill="#4A4D57" font-family="Liberation Sans, sans-serif" text-anchor="middle" font-weight="normal" textLength="10.8" lengthAdjust="spacingAndGlyphs" >12</text>
<text x="1074.5" y="828.3" font-size="11.6" fill="#4A4D57" font-family="Liberation Sans, sans-serif" text-anchor="middle" font-weight="normal" textLength="10.8" lengthAdjust="spacingAndGlyphs" >21</text>
<text x="1162.5" y="828.3" font-size="11.6" fill="#4A4D57" font-family="Liberation Sans, sans-serif" text-anchor="middle" font-weight="normal" textLength="24.8" lengthAdjust="spacingAndGlyphs" >2023</text>
<circle cx="35.6" cy="824.6" r="9.5" fill="#F0F3FA"/>
<text x="35.6" y="827.6" font-size="10.8" fill="#5D606B" font-family="Liberation Sans, sans-serif" text-anchor="middle" font-weight="normal" >Z</text>
<circle cx="1286.7" cy="824.6" r="9.5" fill="#F0F3FA"/>
<text x="1287" y="827.6" font-size="10.8" fill="#5D606B" font-family="Liberation Sans, sans-serif" text-anchor="middle" font-weight="normal" >A</text>
<text x="775.3" y="445.1" font-size="16.5" fill="#0b0b0b" font-family="Liberation Sans, sans-serif" text-anchor="start" font-weight="bold" >-</text>
<text x="787.1" y="445.1" font-size="16.5" fill="#0b0b0b" font-family="Liberation Sans, sans-serif" text-anchor="start" font-weight="bold" textLength="398.5" lengthAdjust="spacingAndGlyphs" >Wedging up into resistance after breaking the 50ma</text>
<text x="775.3" y="467.8" font-size="16.5" fill="#0b0b0b" font-family="Liberation Sans, sans-serif" text-anchor="start" font-weight="bold" >-</text>
<text x="787.1" y="467.8" font-size="16.5" fill="#0b0b0b" font-family="Liberation Sans, sans-serif" text-anchor="start" font-weight="bold" textLength="416.4" lengthAdjust="spacingAndGlyphs" >Stalled at big resistance level with 20, 50, and 200-day</text>
<text x="787.1" y="490.1" font-size="16.5" fill="#0b0b0b" font-family="Liberation Sans, sans-serif" text-anchor="start" font-weight="bold" textLength="311" lengthAdjust="spacingAndGlyphs" >moving averages clustered around 2,450</text>
<g transform="translate(11.1,850.3) scale(0.6)" fill="#1B1F2B"><path d="M14 22H7V11H0V4h14v18zM28 22h-8l7.5-18h8L28 22z"/><circle cx="20" cy="8" r="4"/></g>
<text x="36.6" y="864" font-size="13.8" fill="#2A2E39" font-family="Liberation Sans, sans-serif" text-anchor="start" font-weight="normal" textLength="77.2" lengthAdjust="spacingAndGlyphs" >TradingView</text>
</svg>
</body></html>
